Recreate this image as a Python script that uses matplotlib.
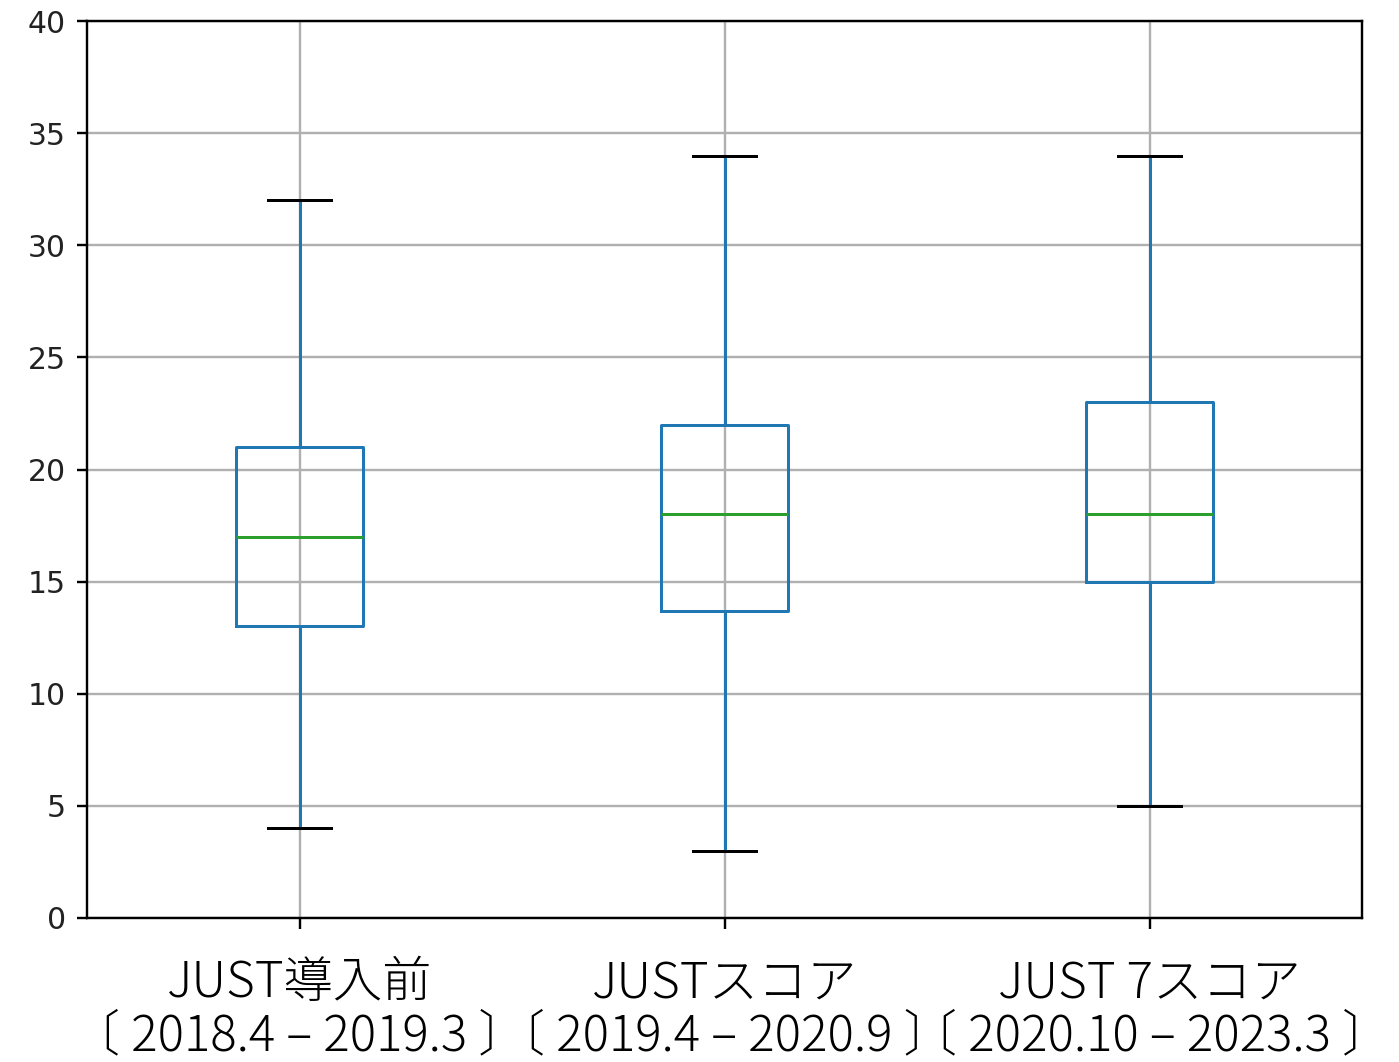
import matplotlib
matplotlib.use("Agg")
import matplotlib.pyplot as plt

# Group labels (JUST score periods)
categories = [
    "JUST導入前\n〔 2018.4 – 2019.3 〕",
    "JUSTスコア\n〔 2019.4 – 2020.9 〕",
    "JUST 7スコア\n〔 2020.10 – 2023.3 〕",
]
whisker_low = [4, 3, 5]
q1 = [13, 13.7, 15]
median = [17, 18, 18]
q3 = [21, 22, 23]
whisker_high = [32, 34, 34]
y_ticks = [0, 5, 10, 15, 20, 25, 30, 35, 40]

S = 2.16  # scale factor for line widths / fonts

fig = plt.figure(figsize=(13.99, 10.62), dpi=100)
ax = fig.add_axes([0.0622, 0.1356, 0.9736 - 0.0622, 0.9802 - 0.1356])

stats = []
for i, lab in enumerate(categories):
    stats.append(dict(label=lab, whislo=whisker_low[i], q1=q1[i], med=median[i],
                      q3=q3[i], whishi=whisker_high[i], fliers=[]))

ax.bxp(stats, positions=[1, 2, 3], widths=0.3, showfliers=False,
       boxprops=dict(color="#1f77b4", linewidth=S),
       whiskerprops=dict(color="#1f77b4", linewidth=S),
       capprops=dict(color="black", linewidth=S),
       medianprops=dict(color="#2ca02c", linewidth=S))

ax.set_xlim(0.5, 3.5)
ax.set_ylim(0, 40)
ax.set_yticks(y_ticks)
ax.set_yticklabels([str(t) for t in y_ticks], family="DejaVu Sans", fontsize=21.5,
                   color="#222222")
ax.grid(True, color="#b0b0b0", linewidth=0.8 * S)
ax.set_axisbelow(True)

for sp in ax.spines.values():
    sp.set_linewidth(0.8 * S)
ax.tick_params(axis="both", length=3.5 * S, width=0.8 * S, pad=3.5 * S)

ax.set_xticklabels(categories, fontsize=35.5, linespacing=1.04,
                   family=["Noto Sans CJK JP", "DejaVu Sans"], fontweight="light")
ax.tick_params(axis="x", pad=21)

fig.savefig("out.png", dpi=100)
